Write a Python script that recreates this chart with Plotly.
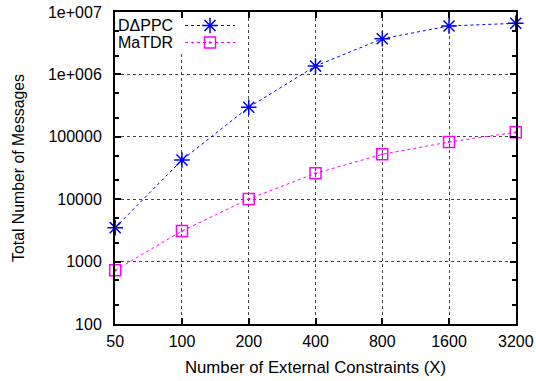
import plotly.graph_objects as go
import math

x_vals = [50, 100, 200, 400, 800, 1600, 3200]
x_labels = ["50", "100", "200", "400", "800", "1600", "3200"]
dappc = [3500, 42500, 297000, 1360000, 3730000, 5970000, 6590000]
matdr = [725, 3100, 10070, 26000, 52300, 82600, 118000]
y_tickvals = [100, 1000, 10000, 100000, 1000000, 10000000]
y_ticktext = ["100", "1000", "10000", "100000", "1e+006", "1e+007"]
series_names = ["D\u0394PPC", "MaTDR"]
colors = ["#0000ff", "#ff00ff"]
symbols = ["asterisk-open", "square-open-dot"]
msizes = [13, 11]

W, H = 536, 381
L, R, T, B = 115, 20, 12, 57
font = "Liberation Sans, Arial, sans-serif"

fig = go.Figure()
for name, vals, c, s, ms in zip(series_names, [dappc, matdr], colors, symbols, msizes):
    fig.add_trace(go.Scatter(x=x_vals, y=vals, mode="lines+markers", name=name,
                             line=dict(color=c, width=1, dash="dot"),
                             marker=dict(symbol=s, size=ms, color=c, line=dict(color=c, width=1.5)),
                             cliponaxis=False, showlegend=False))

pw = W - L - R
ph = H - T - B
def fx(px):
    return (px - L) / pw
def fy(py):
    return (T + ph - py) / ph

# legend background on overlay axes (covers gridlines)
bx0, bx1, by0, by1 = fx(116), fx(240), fy(51), fy(13)
fig.add_trace(go.Scatter(x=[bx0, bx1, bx1, bx0, bx0], y=[by0, by0, by1, by1, by0],
                         mode="lines", fill="toself", fillcolor="white", line=dict(width=0, color="white"),
                         xaxis="x2", yaxis="y2", showlegend=False, hoverinfo="skip"))

# manual legend (gnuplot style: text left, sample right)
leg_y = [25.5, 42.5]
for i, name in enumerate(series_names):
    fig.add_trace(go.Scatter(x=[fx(185), fx(235)], y=[fy(leg_y[i])] * 2,
                             mode="lines", xaxis="x2", yaxis="y2",
                             line=dict(color=colors[i], width=1, dash="dot"),
                             showlegend=False, hoverinfo="skip"))
    fig.add_trace(go.Scatter(x=[fx(210)], y=[fy(leg_y[i])], mode="markers", xaxis="x2", yaxis="y2",
                             marker=dict(symbol=symbols[i], size=msizes[i], color=colors[i],
                                         line=dict(color=colors[i], width=1.5)),
                             showlegend=False, hoverinfo="skip"))
    fig.add_annotation(x=fx(116), y=fy(leg_y[i]), xref="x2", yref="y2", text=name, showarrow=False,
                       xanchor="left", yanchor="middle", font=dict(family=font, size=16, color="black"))

eps = 0.001
fig.update_layout(
    width=W, height=H,
    margin=dict(l=L, r=R, t=T, b=B, autoexpand=False),
    paper_bgcolor="white", plot_bgcolor="white",
    font=dict(family=font, size=16, color="black"),
    xaxis=dict(type="log", range=[math.log10(x_vals[0]) - eps, math.log10(x_vals[-1]) + eps],
               tickvals=x_vals, ticktext=x_labels, automargin=False,
               showline=True, linecolor="black", linewidth=2, mirror="ticks",
               ticks="inside", ticklen=6, tickwidth=1.5, tickcolor="black",
               showgrid=True, gridcolor="#444", griddash="dot", gridwidth=1,
               zeroline=False, tickfont=dict(size=16), ticklabelstandoff=2,
               title=dict(text="Number of External Constraints (X)", font=dict(size=16.8), standoff=12)),
    yaxis=dict(type="log", range=[2, 7],
               tickvals=y_tickvals, ticktext=y_ticktext, automargin=False,
               showline=True, linecolor="black", linewidth=2, mirror="ticks",
               ticks="inside", ticklen=6, tickwidth=1.5, tickcolor="black",
               showgrid=True, gridcolor="#444", griddash="dot", gridwidth=1,
               minor=dict(ticks="inside", ticklen=4, tickwidth=1.5, tickcolor="black",
                          tickvals=[200, 500, 2000, 5000, 20000, 50000, 200000, 500000, 2000000, 5000000],
                          showgrid=False),
               zeroline=False, tickfont=dict(size=16), ticklabelstandoff=8,
               title=dict(text="Total Number of Messages", font=dict(size=15.8), standoff=19)),
    xaxis2=dict(overlaying="x", range=[0, 1], visible=False, fixedrange=True),
    yaxis2=dict(overlaying="y", range=[0, 1], visible=False, fixedrange=True),
)

fig.write_html("out.html")
